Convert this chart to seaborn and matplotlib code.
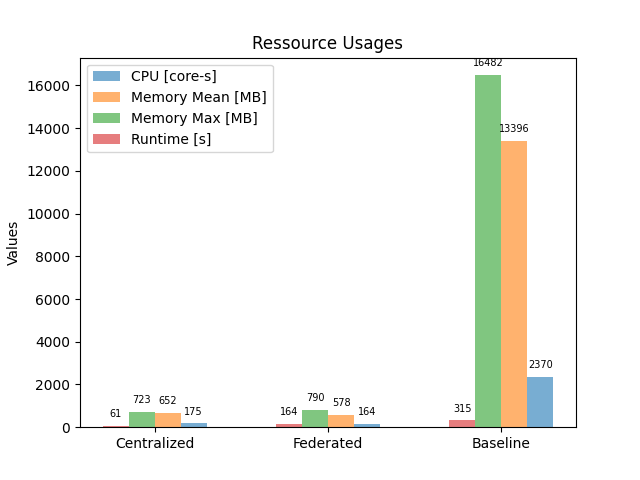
import pandas as pd
import matplotlib
matplotlib.use('Agg')
import matplotlib.pyplot as plt
import seaborn as sns

setups = ['Centralized', 'Federated', 'Baseline']
metrics = ['Runtime [s]', 'Memory Max [MB]', 'Memory Mean [MB]', 'CPU [core-s]']
runtime = [61, 164, 315]
memory_max = [723, 790, 16482]
memory_mean = [652, 578, 13396]
cpu = [175, 164, 2370]

colors = ['tab:red', 'tab:green', 'tab:orange', 'tab:blue']

rows = []
for metric, vals in zip(metrics, [runtime, memory_max, memory_mean, cpu]):
    for s, v in zip(setups, vals):
        rows.append({'setup': s, 'metric': metric, 'value': v})
data = pd.DataFrame(rows)

fig, ax = plt.subplots(figsize=(6.4, 4.8), dpi=100)

sns.barplot(
    data=data,
    x='setup',
    y='value',
    hue='metric',
    hue_order=metrics,
    order=setups,
    palette=colors,
    saturation=1,
    alpha=0.6,
    width=0.6,
    linewidth=0,
    errorbar=None,
    ax=ax,
)

for container in ax.containers:
    ax.bar_label(container, fmt='%d', padding=5, fontsize=7)

ax.set_xlim(-0.43, 2.43)
ax.set_xlabel('')
ax.set_ylabel('Values')
ax.set_title('Ressource Usages')

handles, labels = ax.get_legend_handles_labels()
ax.legend(handles[::-1], labels[::-1], loc='upper left')

plt.savefig('out.png', dpi=100)
